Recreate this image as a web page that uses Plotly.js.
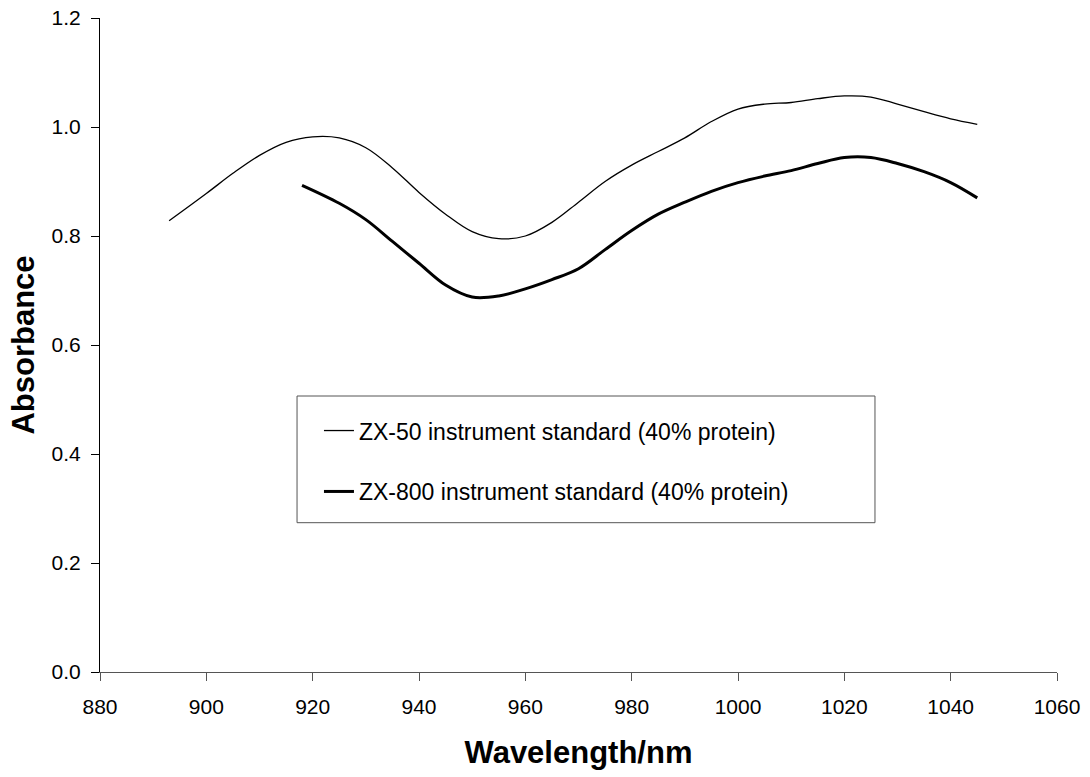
<!DOCTYPE html>
<html>
<head>
<meta charset="utf-8">
<script src="https://cdn.plot.ly/plotly-3.0.1.min.js"></script>
<style>html,body{margin:0;padding:0;background:#fff;}#chart{width:1090px;height:777px;}</style>
</head>
<body>
<div id="chart"></div>
<script>
const zx50Wavelength = [893, 900, 905, 910, 915, 920, 925, 930, 935, 940, 945, 950, 955, 960, 965, 970, 975, 980, 985, 990, 995, 1000, 1005, 1010, 1015, 1020, 1025, 1030, 1035, 1040, 1045];
const zx50Absorbance = [0.828, 0.878, 0.915, 0.948, 0.972, 0.982, 0.980, 0.962, 0.925, 0.880, 0.840, 0.808, 0.795, 0.800, 0.825, 0.862, 0.900, 0.930, 0.955, 0.980, 1.010, 1.033, 1.042, 1.045, 1.052, 1.057, 1.055, 1.042, 1.028, 1.015, 1.005];
const zx800Wavelength = [918, 925, 930, 935, 940, 945, 950, 955, 960, 965, 970, 975, 980, 985, 990, 995, 1000, 1005, 1010, 1015, 1020, 1025, 1030, 1035, 1040, 1045];
const zx800Absorbance = [0.893, 0.860, 0.830, 0.790, 0.750, 0.710, 0.688, 0.690, 0.703, 0.720, 0.740, 0.775, 0.810, 0.840, 0.862, 0.882, 0.898, 0.910, 0.920, 0.933, 0.944, 0.944, 0.933, 0.918, 0.898, 0.870];
const seriesNames = ['ZX-50 instrument standard (40% protein)', 'ZX-800 instrument standard (40% protein)'];
const xTicks = [880, 900, 920, 940, 960, 980, 1000, 1020, 1040, 1060];
const yTicks = [0, 0.2, 0.4, 0.6, 0.8, 1.0, 1.2];

const font = 'Liberation Sans, Arial, sans-serif';
const traces = [
  {x: zx50Wavelength, y: zx50Absorbance, name: seriesNames[0], type: 'scatter', mode: 'lines',
   line: {color: '#000', width: 1.3, shape: 'spline', smoothing: 1}, legendgroup: 'a'},
  {x: zx800Wavelength, y: zx800Absorbance, name: seriesNames[1], type: 'scatter', mode: 'lines',
   line: {color: '#000', width: 3, shape: 'spline', smoothing: 1}, legendgroup: 'b'}
];
const layout = {
  width: 1090, height: 777,
  margin: {l: 100, r: 33, t: 18, b: 105},
  paper_bgcolor: '#fff', plot_bgcolor: '#fff',
  font: {family: font, color: '#000', size: 21},
  showlegend: true,
  legend: {x: 0.2288, y: 0.402, xanchor: 'left', yanchor: 'top', borderwidth: 0,
           bgcolor: 'rgba(0,0,0,0)', font: {size: 23, family: font}, tracegroupgap: 28, itemwidth: 30,
           traceorder: 'grouped'},
  shapes: [{type: 'rect', xref: 'paper', yref: 'paper', x0: 0.2059, x1: 0.8098, y0: 0.2283, y1: 0.422,
            line: {color: '#555', width: 1}, fillcolor: '#fff', layer: 'below'}],
  xaxis: {range: [880, 1060], tickvals: xTicks, ticks: 'outside', ticklen: 8, tickcolor: '#555',
          showline: true, linecolor: '#555', linewidth: 1, showgrid: false, zeroline: false,
          ticklabelstandoff: 8,
          tickfont: {size: 21}, title: {text: '<b>Wavelength/nm</b>', font: {size: 31}, standoff: 24}},
  yaxis: {range: [0, 1.2], tickvals: yTicks, tickformat: '.1f', ticks: 'outside', ticklen: 8, tickcolor: '#000',
          showline: true, linecolor: '#000', linewidth: 1, showgrid: false, zeroline: false,
          ticklabelstandoff: 6,
          tickfont: {size: 21}, title: {text: '<b>Absorbance</b>', font: {size: 31}, standoff: 7}}
};
Plotly.newPlot('chart', traces, layout, {displayModeBar: false, staticPlot: true});
</script>
</body>
</html>
